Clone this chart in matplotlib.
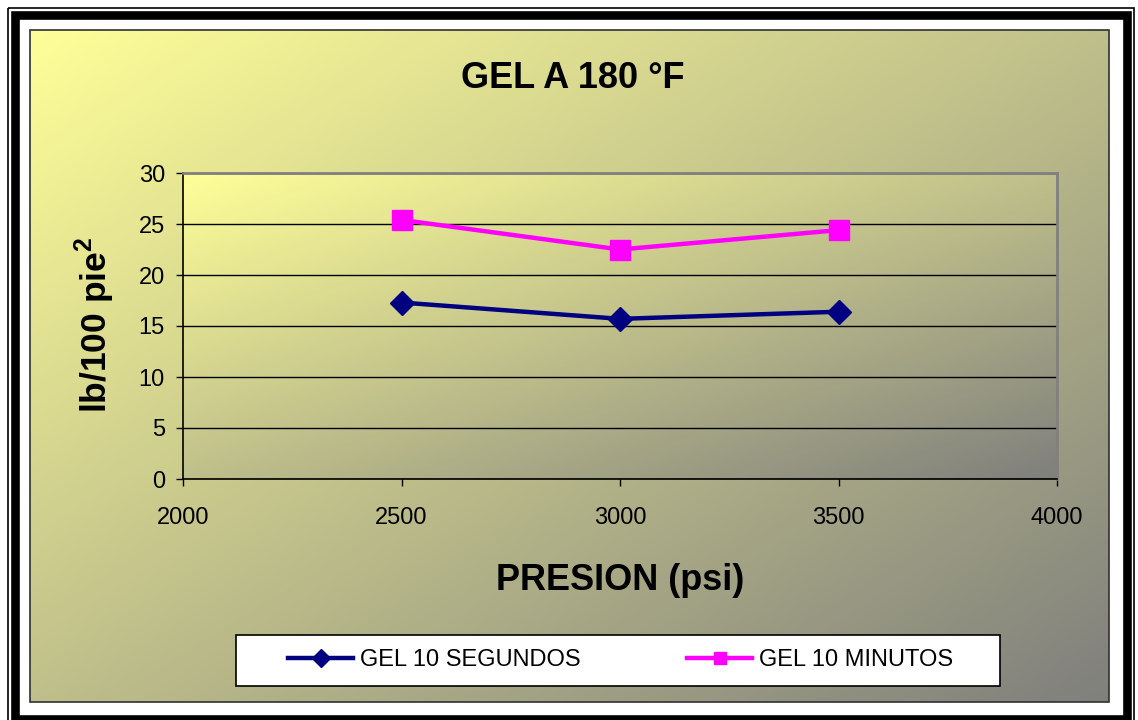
import matplotlib as mpl
mpl.use("Agg")
import matplotlib.pyplot as plt
import numpy as np
from matplotlib.lines import Line2D
from matplotlib.patches import Rectangle

# data
presion = [2500, 3000, 3500]
gel_10_seg = [17.3, 15.7, 16.4]
gel_10_min = [25.4, 22.5, 24.4]
x_ticks = [2000, 2500, 3000, 3500, 4000]
y_ticks = [0, 5, 10, 15, 20, 25, 30]
series_names = ['GEL 10 SEGUNDOS', 'GEL 10 MINUTOS']

plt.rcParams['font.family'] = ['Liberation Sans', 'DejaVu Sans']
plt.rcParams['mathtext.fontset'] = 'custom'
plt.rcParams['mathtext.rm'] = 'Liberation Sans'
plt.rcParams['mathtext.bf'] = 'Liberation Sans:bold'

W, H = 1138, 720
fig = plt.figure(figsize=(W / 100, H / 100), dpi=100)


def gradient(n=256):
    yy, xx = np.mgrid[0:1:n * 1j, 0:1:n * 1j]
    t = (xx + yy) / 2
    c0 = np.array([1.0, 1.0, 0.6])
    c1 = np.array([0.5, 0.5, 0.49])
    return c0 + (c1 - c0) * t[..., None]


# background / frame, in pixel coords
bg = fig.add_axes([0, 0, 1, 1])
bg.set_xlim(0, W)
bg.set_ylim(H, 0)
bg.axis('off')
bg.imshow(gradient(), extent=(30, 1109, 702, 30), aspect='auto', zorder=0)
bg.add_patch(Rectangle((30, 30), 1079, 672, fill=False, ec='#303030', lw=1.2))
bg.add_patch(Rectangle((8.5, 7.5), 1125.5, 730, fill=False, ec='black', lw=1.2))
bg.add_patch(Rectangle((15.5, 14.5), 1112, 704, fill=False, ec='black', lw=6.2))
# legend box
bg.add_patch(Rectangle((236, 635), 764, 51, fc='white', ec='black', lw=1.2,
                       zorder=2))
bg.set_xlim(0, W)
bg.set_ylim(H, 0)

# plot area
ax = fig.add_axes([183 / W, (H - 479) / H, (1057 - 183) / W, (479 - 173) / H])
ax.patch.set_alpha(0)
ax.imshow(gradient(), extent=(0, 1, 0, 1), transform=ax.transAxes,
          aspect='auto', zorder=0)

ax.plot(presion, gel_10_seg, color='#000080', lw=3.2, marker='D',
        markersize=12.5, zorder=3)
ax.plot(presion, gel_10_min, color='#FF00FF', lw=3.2, marker='s',
        markersize=15, zorder=3)

ax.set_xlim(2000, 4000)
ax.set_ylim(0, 30)
ax.set_xticks(x_ticks)
ax.set_yticks(y_ticks)
ax.yaxis.grid(True, color='black', lw=1)
ax.set_axisbelow(True)
for s in ['left', 'bottom']:
    ax.spines[s].set_color('black')
    ax.spines[s].set_linewidth(1.2)
for s in ['top', 'right']:
    ax.spines[s].set_color('#808080')
    ax.spines[s].set_linewidth(2)
ax.tick_params(direction='out', length=5, width=1, labelsize=17, colors='black')
ax.tick_params(axis='x', pad=15)
ax.tick_params(axis='y', pad=8)

fig.text(573 / W, 1 - 78 / H, 'GEL A 180 °F', ha='center', va='center',
         fontsize=26, weight='bold')
fig.text(620 / W, 1 - 580 / H, 'PRESION (psi)', ha='center', va='center',
         fontsize=26, weight='bold')
fig.text(95 / W, 1 - 325 / H, r'lb/100 pie$^\mathbf{2}$', ha='center',
         va='center', rotation=90, fontsize=25.5, weight='bold')

handles = [
    Line2D([], [], color='#000080', lw=3.2, marker='D', markersize=9),
    Line2D([], [], color='#FF00FF', lw=3.2, marker='s', markersize=9),
]
leg = fig.legend(handles, series_names, loc='center', ncol=2,
                 bbox_to_anchor=(621 / W, 1 - 660 / H),
                 bbox_transform=fig.transFigure, frameon=False,
                 handlelength=2.75, handletextpad=0.3, columnspacing=4.5,
                 borderaxespad=0, borderpad=0, prop=dict(size=17))
leg.set_zorder(5)

plt.savefig('out.png', dpi=100)
